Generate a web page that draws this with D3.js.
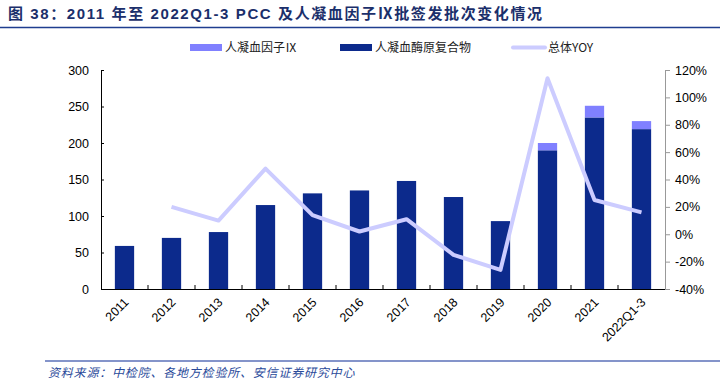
<!DOCTYPE html>
<html>
<head>
<meta charset="utf-8">
<script src="https://cdn.jsdelivr.net/npm/d3@7"></script>
<style>
  body { margin: 0; background: #fff; }
  svg { display: block; font-family: "Liberation Sans", Arial, sans-serif; }
</style>
</head>
<body>
<svg id="chart" width="720" height="388"></svg>
<script>
// data
var years = ["2011","2012","2013","2014","2015","2016","2017","2018","2019","2020","2021","2022Q1-3"];
var pccCounts = [59, 70, 78, 115, 131, 135, 148, 126, 93, 190, 235, 219];
var fixCounts = [0, 0, 0, 0, 0, 0, 0, 0, 0, 10, 16, 11];
var yoyYears = ["2012","2013","2014","2015","2016","2017","2018","2019","2020","2021","2022Q1-3"];
var yoyValues = [20, 10, 48, 14, 2, 11, -15, -26, 114, 25, 16];
var leftTicks = [0, 50, 100, 150, 200, 250, 300];
var rightTicks = [-40, -20, 0, 20, 40, 60, 80, 100, 120];

var darkBlue = "#0c2a8c",
    lightBlue = "#8080ff",
    lineColor = "#ccccff";

var svg = d3.select("#chart"),
    margin = {top: 70, right: 55, bottom: 99, left: 101},
    width = 720 - margin.left - margin.right,
    height = 388 - margin.top - margin.bottom,
    g = svg.append("g").attr("transform", "translate(" + margin.left + "," + margin.top + ")");

// title
svg.append("text")
    .attr("x", 8).attr("y", 19)
    .attr("fill", "#1b2f6b")
    .style("font-size", "15px").style("font-weight", "bold")
    .style("letter-spacing", "1.6px")
    .style("font-family", "'Liberation Sans', 'Noto Sans CJK SC', sans-serif")
    .text("图 38：2011 年至 2022Q1-3  PCC 及人凝血因子Ⅸ批签发批次变化情况");
svg.append("line")
    .attr("x1", 0).attr("x2", 720).attr("y1", 27.5).attr("y2", 27.5)
    .attr("stroke", "#1f3d8f").attr("stroke-width", 1.5);

var x = d3.scaleBand().domain(years).range([0, width]).paddingInner(0.59).paddingOuter(0.295);
var xc = d3.scaleBand().domain(years).range([0, width]);
var y = d3.scaleLinear().domain([0, 300]).range([height, 0]);
var y2 = d3.scaleLinear().domain([-40, 120]).range([height, 0]);

// bars
var stacked = years.map(function(d, i) {
  return {year: d, pcc: pccCounts[i], fix: fixCounts[i]};
});

g.selectAll(".bar-pcc")
  .data(stacked)
  .enter().append("rect")
    .attr("class", "bar-pcc")
    .attr("x", function(d) { return x(d.year); })
    .attr("width", x.bandwidth())
    .attr("y", function(d) { return y(d.pcc); })
    .attr("height", function(d) { return height - y(d.pcc); })
    .attr("fill", darkBlue);

g.selectAll(".bar-fix")
  .data(stacked.filter(function(d) { return d.fix > 0; }))
  .enter().append("rect")
    .attr("class", "bar-fix")
    .attr("x", function(d) { return x(d.year); })
    .attr("width", x.bandwidth())
    .attr("y", function(d) { return y(d.pcc + d.fix); })
    .attr("height", function(d) { return y(d.pcc) - y(d.pcc + d.fix); })
    .attr("fill", lightBlue);

// yoy line
var line = d3.line()
    .x(function(d) { return xc(d.year) + xc.bandwidth() / 2; })
    .y(function(d) { return y2(d.v); });

g.append("path")
    .datum(yoyYears.map(function(d, i) { return {year: d, v: yoyValues[i]}; }))
    .attr("d", line)
    .attr("fill", "none")
    .attr("stroke", lineColor)
    .attr("stroke-width", 4)
    .attr("stroke-linejoin", "round");

// axes
g.append("g")
    .call(d3.axisLeft(y).tickValues(leftTicks).tickSizeInner(-3).tickSizeOuter(0).tickPadding(12));
var rightAxis = g.append("g")
    .attr("transform", "translate(" + width + ",0)")
    .call(d3.axisRight(y2).tickValues(rightTicks).tickSizeInner(5).tickSizeOuter(0).tickPadding(5)
      .tickFormat(function(d) { return d + "%"; }));
rightAxis.select(".domain").attr("stroke", "#999");
rightAxis.selectAll(".tick line").attr("stroke", "#999");

var bottomAxis = g.append("g")
    .attr("transform", "translate(0," + height + ")")
    .call(d3.axisBottom(xc).tickSize(0).tickPadding(0));
bottomAxis.select(".domain").remove();
g.append("line")
    .attr("x1", 0).attr("x2", width).attr("y1", height + 0.5).attr("y2", height + 0.5)
    .attr("stroke", "#000");
g.selectAll(".sep")
  .data(years.slice(1))
  .enter().append("line")
    .attr("class", "sep")
    .attr("x1", function(d) { return xc(d); }).attr("x2", function(d) { return xc(d); })
    .attr("y1", height - 4).attr("y2", height)
    .attr("stroke", "#000");

bottomAxis.selectAll(".tick text")
    .attr("text-anchor", "end")
    .attr("dy", "0")
    .attr("transform", "translate(5,14) rotate(-45)");

g.selectAll(".tick text")
    .style("font-size", "12.5px")
    .style("font-family", "'Liberation Sans', Arial, sans-serif")
    .attr("fill", "#000");

// legend
var legend = svg.append("g")
    .style("font-family", "'Noto Sans CJK SC', sans-serif")
    .style("font-size", "12px");
var legendItems = [
  {label: "人凝血因子Ⅸ", color: lightBlue, type: "rect", x: 190},
  {label: "人凝血酶原复合物", color: darkBlue, type: "rect", x: 340},
  {label: "总体YOY", color: lineColor, type: "line", x: 513}
];
legendItems.forEach(function(d) {
  if (d.type === "rect") {
    legend.append("rect").attr("x", d.x).attr("y", 44).attr("width", 32).attr("height", 7).attr("fill", d.color);
  } else {
    legend.append("line").attr("x1", d.x).attr("x2", d.x + 32).attr("y1", 47.5).attr("y2", 47.5)
      .attr("stroke", d.color).attr("stroke-width", 4).attr("stroke-linecap", "round");
  }
  legend.append("text").attr("x", d.x + 35).attr("y", 52).attr("fill", "#222").text(d.label);
});

// source
svg.append("line")
    .attr("x1", 45).attr("x2", 720).attr("y1", 361).attr("y2", 361)
    .attr("stroke", "#5b70b8").attr("stroke-width", 1.5);
svg.append("text")
    .attr("x", 48).attr("y", 377)
    .attr("fill", "#2a4a9a")
    .style("font-size", "12px").style("font-style", "italic")
    .style("letter-spacing", "0.8px")
    .style("font-family", "'Noto Sans CJK SC', sans-serif")
    .text("资料来源：中检院、各地方检验所、安信证券研究中心");
</script>
</body>
</html>
